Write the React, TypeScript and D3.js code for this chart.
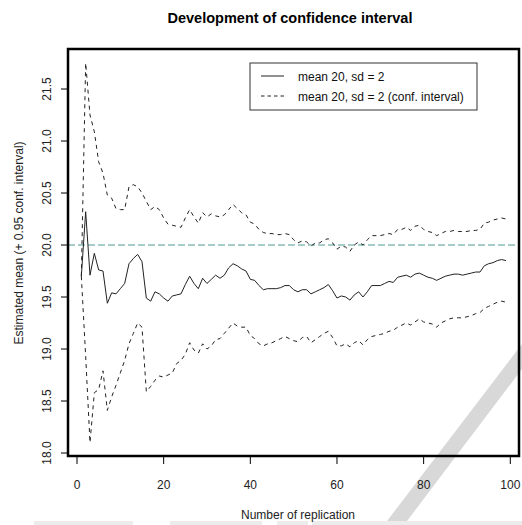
import React from "react";
import * as d3 from "d3";

// Replication index 1..99
const replications: number[] = Array.from({ length: 99 }, (_, i) => i + 1);

// Running estimate of the mean after n replications
const meanValues: number[] = [
  19.70, 20.32, 19.71, 19.92, 19.76, 19.75, 19.44, 19.54, 19.53, 19.58,
  19.63, 19.82, 19.87, 19.91, 19.84, 19.49, 19.46, 19.55, 19.53, 19.49,
  19.46, 19.51, 19.52, 19.53, 19.62, 19.70, 19.63, 19.58, 19.68, 19.63,
  19.67, 19.71, 19.68, 19.71, 19.78, 19.82, 19.80, 19.77, 19.75, 19.67,
  19.66, 19.61, 19.57, 19.58, 19.58, 19.58, 19.59, 19.61, 19.61, 19.57,
  19.55, 19.57, 19.57, 19.53, 19.55, 19.57, 19.59, 19.62, 19.56, 19.49,
  19.51, 19.50, 19.47, 19.52, 19.55, 19.50, 19.55, 19.61, 19.61, 19.61,
  19.63, 19.65, 19.64, 19.69, 19.70, 19.71, 19.69, 19.72, 19.73, 19.71,
  19.69, 19.68, 19.66, 19.68, 19.70, 19.71, 19.72, 19.72, 19.71, 19.72,
  19.73, 19.74, 19.74, 19.80, 19.82, 19.83, 19.85, 19.86, 19.85,
];

// Upper bound of the 0.95 confidence interval
const upperValues: number[] = [
  19.70, 21.75, 21.25, 21.09, 20.80, 20.69, 20.48, 20.45, 20.35, 20.34,
  20.34, 20.56, 20.58, 20.56, 20.50, 20.42, 20.34, 20.37, 20.34, 20.26,
  20.20, 20.19, 20.18, 20.17, 20.26, 20.34, 20.27, 20.21, 20.31, 20.27,
  20.30, 20.28, 20.27, 20.29, 20.34, 20.39, 20.35, 20.31, 20.29, 20.22,
  20.20, 20.15, 20.12, 20.11, 20.11, 20.10, 20.10, 20.11, 20.10, 20.05,
  20.02, 20.04, 20.03, 19.99, 20.02, 20.02, 20.05, 20.06, 20.02, 19.96,
  19.99, 19.98, 19.94, 20.00, 20.03, 20.00, 20.05, 20.09, 20.09, 20.09,
  20.10, 20.11, 20.10, 20.15, 20.15, 20.17, 20.14, 20.18, 20.19, 20.15,
  20.13, 20.12, 20.09, 20.11, 20.13, 20.13, 20.14, 20.13, 20.13, 20.13,
  20.14, 20.14, 20.15, 20.21, 20.22, 20.24, 20.25, 20.26, 20.25,
];

// Lower bound of the 0.95 confidence interval
const lowerValues: number[] = [
  19.70, 18.93, 18.10, 18.58, 18.61, 18.79, 18.41, 18.54, 18.65, 18.77,
  18.89, 19.05, 19.15, 19.25, 19.21, 18.59, 18.64, 18.70, 18.74, 18.73,
  18.75, 18.77, 18.86, 18.89, 18.95, 19.06, 18.99, 18.96, 19.05, 19.00,
  19.03, 19.09, 19.10, 19.15, 19.20, 19.25, 19.22, 19.21, 19.21, 19.13,
  19.10, 19.05, 19.03, 19.05, 19.06, 19.08, 19.10, 19.12, 19.10, 19.08,
  19.07, 19.11, 19.12, 19.06, 19.09, 19.12, 19.15, 19.17, 19.11, 19.03,
  19.03, 19.05, 19.02, 19.06, 19.08, 19.04, 19.09, 19.12, 19.13, 19.14,
  19.15, 19.17, 19.18, 19.21, 19.23, 19.25, 19.23, 19.26, 19.29, 19.26,
  19.25, 19.24, 19.21, 19.25, 19.27, 19.29, 19.30, 19.30, 19.30, 19.31,
  19.32, 19.34, 19.35, 19.39, 19.41, 19.43, 19.45, 19.46, 19.45,
];

const xTicks: number[] = [0, 20, 40, 60, 80, 100];
const yTicks: number[] = [18.0, 18.5, 19.0, 19.5, 20.0, 20.5, 21.0, 21.5];
const targetMean = 20;

const legendLabels: string[] = ["mean 20, sd = 2", "mean 20, sd = 2 (conf. interval)"];

const W = 522;
const H = 525;
const FONT = "'Liberation Sans', Arial, Helvetica, sans-serif";

// Plot frame
const box = { left: 68, right: 519, top: 49, bottom: 456 };

export default function App() {
  const x = d3.scaleLinear().domain([0, 100]).range([77, 510.3]);
  const y = d3.scaleLinear().domain([18, 21.5]).range([453, 89]);

  const line = d3
    .line<[number, number]>()
    .x((d) => x(d[0]))
    .y((d) => y(d[1]));

  const pairs = (vals: number[]) =>
    replications.map((n, i) => [n, vals[i]] as [number, number]);

  const meanPath = line(pairs(meanValues)) || "";
  const upperPath = line(pairs(upperValues)) || "";
  const lowerPath = line(pairs(lowerValues)) || "";

  const lineColor = "#222";

  return (
    <svg
      width={W}
      height={H}
      viewBox={`0 0 ${W} ${H}`}
      style={{ position: "absolute", left: 0, top: 0, background: "#fff" }}
      fontFamily={FONT}
    >
      <rect x={0} y={0} width={W} height={H} fill="#fff" />

      {/* faint diagonal stripe and bottom marks of the scanned page */}
      <polygon points="522,344 522,369 404,525 384,525" fill="#d8d8d8" />
      <g fill="#ececec">
        <rect x={34} y={521} width={99} height={4} />
        <rect x={170} y={521} width={92} height={4} />
        <rect x={277} y={521} width={31} height={4} />
        <rect x={312} y={521} width={150} height={4} />
        <rect x={456} y={521} width={66} height={4} />
      </g>

      {/* title */}
      <text
        x={290}
        y={23}
        textAnchor="middle"
        fontWeight="bold"
        fontSize={14.5}
        fill="#000"
      >
        Development of confidence interval
      </text>

      {/* reference line at the true mean */}
      <line
        x1={box.left}
        x2={box.right}
        y1={y(targetMean)}
        y2={y(targetMean)}
        stroke="#4f9a94"
        strokeWidth={1}
        strokeDasharray="7 3"
      />

      {/* confidence bounds */}
      <path d={upperPath} fill="none" stroke={lineColor} strokeWidth={1} strokeDasharray="4 4" />
      <path d={lowerPath} fill="none" stroke={lineColor} strokeWidth={1} strokeDasharray="4 4" />
      {/* running mean */}
      <path d={meanPath} fill="none" stroke={lineColor} strokeWidth={1} />

      {/* frame */}
      <rect
        x={box.left}
        y={box.top}
        width={box.right - box.left}
        height={box.bottom - box.top}
        fill="none"
        stroke="#000"
        strokeWidth={2.5}
      />

      {/* x axis */}
      <g>
        {xTicks.map((t) => (
          <g key={t}>
            <line x1={x(t)} x2={x(t)} y1={box.bottom} y2={box.bottom + 8} stroke="#000" strokeWidth={1} />
            <text x={x(t)} y={489} textAnchor="middle" fontSize={12} fill="#222">
              {t}
            </text>
          </g>
        ))}
      </g>
      <text x={298} y={519} textAnchor="middle" fontSize={12} fill="#222">
        Number of replication
      </text>

      {/* y axis */}
      <g>
        {yTicks.map((t) => (
          <g key={t}>
            <line x1={box.left - 7} x2={box.left} y1={y(t)} y2={y(t)} stroke="#000" strokeWidth={1} />
            <text
              transform={`translate(51, ${y(t)}) rotate(-90)`}
              textAnchor="middle"
              fontSize={12}
              fill="#222"
            >
              {t.toFixed(1)}
            </text>
          </g>
        ))}
      </g>
      <text
        transform={`translate(23, 243) rotate(-90)`}
        textAnchor="middle"
        fontSize={12}
        fill="#222"
      >
        Estimated mean (+ 0.95 conf. interval)
      </text>

      {/* legend */}
      <g>
        <rect x={250} y={63} width={227} height={47} fill="#fff" stroke="#333" strokeWidth={1} />
        <line x1={261} x2={284} y1={76} y2={76} stroke={lineColor} strokeWidth={1} />
        <line x1={261} x2={284} y1={96} y2={96} stroke={lineColor} strokeWidth={1} strokeDasharray="3.5 3" />
        <text x={298} y={80.5} fontSize={12} fill="#111">
          {legendLabels[0]}
        </text>
        <text x={298} y={100.5} fontSize={12} fill="#111">
          {legendLabels[1]}
        </text>
      </g>
    </svg>
  );
}
